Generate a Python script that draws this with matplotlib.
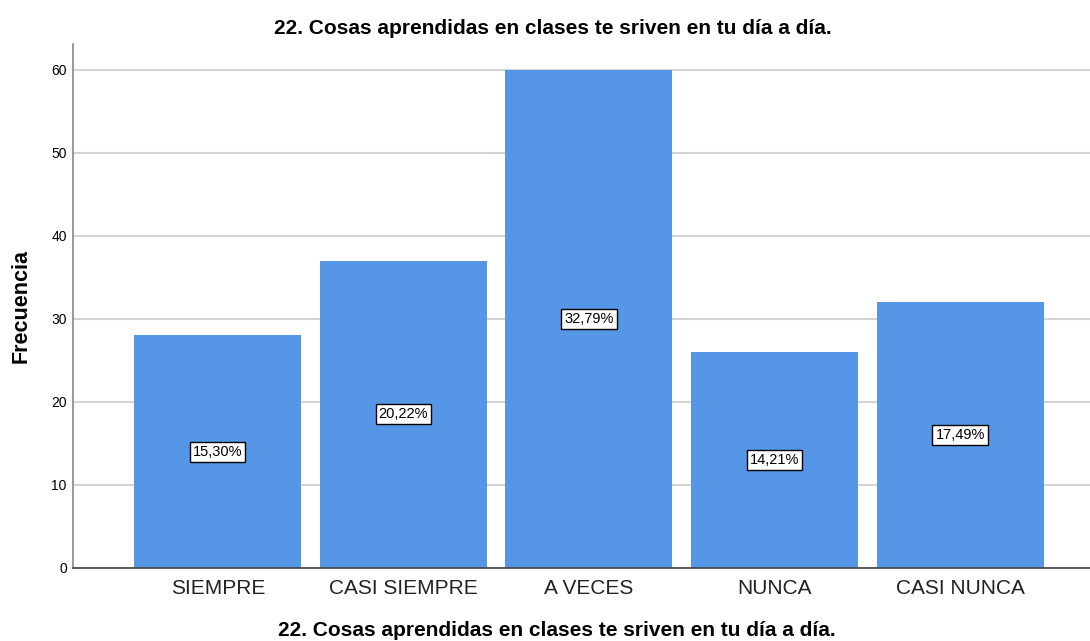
import matplotlib
matplotlib.use("Agg")
import matplotlib.pyplot as plt

categories = ["SIEMPRE", "CASI SIEMPRE", "A VECES", "NUNCA", "CASI NUNCA"]
values = [28, 37, 60, 26, 32]
percent_labels = ["15,30%", "20,22%", "32,79%", "14,21%", "17,49%"]
title = "22. Cosas aprendidas en clases te sriven en tu día a día."

plt.rcParams['font.family'] = ['Liberation Sans', 'DejaVu Sans']

fig = plt.figure(figsize=(10.9, 6.41), dpi=100)
ax = fig.add_axes([0.067, 0.1139, 0.933, 0.8175])

x = list(range(len(categories)))
ax.bar(x, values, width=0.9, color="#5596E6", zorder=2)
for xi, v, lab in zip(x, values, percent_labels):
    ax.text(xi, v / 2, lab, ha="center", va="center", fontsize=10.5, zorder=3,
            bbox=dict(boxstyle="square,pad=0.2", facecolor="white", edgecolor="black", linewidth=1))

ax.set_xlim(-0.78, 4.70)
ax.set_ylim(0, 63.1)
ax.set_yticks([0, 10, 20, 30, 40, 50, 60])
ax.yaxis.grid(True, color="#d4d4d4", linewidth=1.5, zorder=0)
ax.set_axisbelow(True)
ax.set_xticks(x)
ax.set_xticklabels(categories, fontsize=15, color="#222222")
ax.tick_params(axis="x", length=0, pad=8)
ax.tick_params(axis="y", length=0, labelsize=10, pad=4.5)
for s in ["top", "right"]:
    ax.spines[s].set_visible(False)
ax.spines["left"].set_color("#888888")
ax.spines["left"].set_linewidth(1.2)
ax.spines["bottom"].set_color("#444444")
ax.spines["bottom"].set_linewidth(1.2)

ax.set_ylabel("Frecuencia", fontsize=15.5, fontweight="bold", labelpad=14)
fig.text(0.511, 0.017, title, ha="center", va="center", fontsize=15, fontweight="bold")
fig.text(0.507, 0.955, title, ha="center", va="center", fontsize=15, fontweight="bold")

fig.savefig("out.png", dpi=100)
